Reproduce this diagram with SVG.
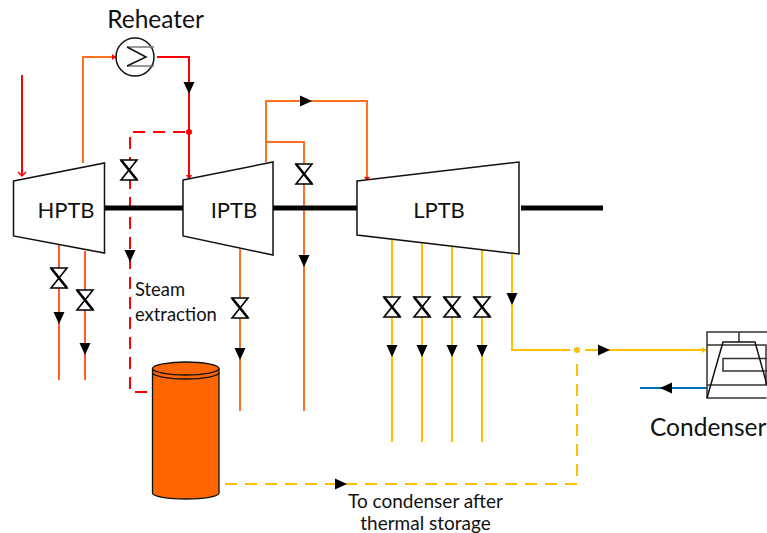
<svg xmlns="http://www.w3.org/2000/svg" width="767" height="533" viewBox="0 0 767 533">
<style>
.t{font-family:"Lato","Carlito","Liberation Sans",sans-serif;fill:#111}
.b{fill:#fff;stroke:#111;stroke-width:1.5}
.s{fill:none;stroke:#000;stroke-width:5}
.l{fill:none;stroke-width:2}
.red{stroke:#ff0000}.or{stroke:#ff7020}.hp{stroke:#ff5a28}.ye{stroke:#ffc000}.bl{stroke:#0070c0}
.d{stroke-dasharray:12 8}
.v{fill:#fff;stroke:#000;stroke-width:1.600}
.x{fill:none;stroke:#000;stroke-width:2.600}
.a{fill:#000}
</style>
<defs>
<g id="valve"><path class="v" d="M-8-10H8L-8 10H8Z"/><path class="x" d="M-8-10L8 10"/></g>
<path id="ad" class="a" d="M-5.500-6H5.500L0 6Z"/>
<path id="ar" class="a" d="M-6-5.500V5.500L6 0Z"/>
</defs>
<g id="connectors">
<path class="l red" d="M22 75V176"/><path d="M18 172L22 176L26 172" fill="none" stroke="#ff0000" stroke-width="1.500"/>
<path class="l or" d="M83 163V57H116"/><path d="M112 54L116 57L112 60Z" fill="#ff0000"/>
<path class="l red" d="M157 57H189V178"/><path d="M186 175L189 180L192 175Z" fill="#ff0000"/>
<path class="l red d" d="M185 132H130V392H152"/>
<circle cx="189" cy="132" r="3" fill="#ff0000"/>
<path class="l or" d="M266 162V101H367V178"/><path d="M364 177L367 181L370 177Z" fill="#ff0000"/>
<path class="l or" d="M266 142H304V411"/>
<path class="l or" d="M240 249V411"/>
<path class="l hp" d="M59 245V380M85 251V380"/>
<path class="l ye" d="M392 239V442M422 243V442M452 246V442M482 250V442"/>
<path class="l ye" d="M512 253V350H570M585 350H706"/><path d="M702 347L707 350L702 353Z" fill="#ffc000"/>
<circle cx="577" cy="350" r="3" fill="#ffc000"/>
<path class="l ye d" d="M225 484H577V360"/>
<path class="l bl" d="M640 388H707"/>
<use href="#ad" x="189" y="88"/>
<use href="#ar" x="306" y="101"/>
<use href="#ad" x="130" y="256"/>
<use href="#ad" x="304" y="261"/>
<use href="#ad" x="59" y="318"/>
<use href="#ad" x="85" y="349"/>
<use href="#ad" x="240" y="354"/>
<use href="#ad" x="392" y="351"/>
<use href="#ad" x="422" y="351"/>
<use href="#ad" x="452" y="351"/>
<use href="#ad" x="482" y="351"/>
<use href="#ad" x="512" y="299"/>
<use href="#ar" x="604" y="350"/>
<use href="#ar" x="341" y="484"/>
<path class="a" d="M660 388L672 382.500V393.500Z"/>
<use href="#valve" x="129" y="170"/>
<use href="#valve" x="304" y="174"/>
<use href="#valve" x="59" y="278"/>
<use href="#valve" x="85" y="300"/>
<use href="#valve" x="240" y="308"/>
<use href="#valve" x="392" y="307"/>
<use href="#valve" x="422" y="307"/>
<use href="#valve" x="452" y="307"/>
<use href="#valve" x="482" y="307"/>
</g>
<g id="shafts">
<path class="s" d="M105 208H184M273 208H357M521 208H603"/>
</g>
<g id="hptb"><path class="b" d="M13.500 181L104.500 163V253L13.500 236Z"/><text class="t" x="66" y="218" font-size="22" text-anchor="middle">HPTB</text></g>
<g id="iptb"><path class="b" d="M183 180L273 162V255L183 236Z"/><text class="t" x="234" y="218" font-size="22" text-anchor="middle">IPTB</text></g>
<g id="lptb"><path class="b" d="M357 181L519 162V254L357 235Z"/><text class="t" x="439" y="218" font-size="22" text-anchor="middle">LPTB</text></g>
<g id="reheater">
<circle cx="135" cy="57" r="19" fill="#fff" stroke="#111" stroke-width="1.500"/>
<path d="M127 47H154M127 66H154" stroke="#777" stroke-width="1.500" fill="none"/>
<path d="M127 47L146 57L127 66" stroke="#111" stroke-width="1.500" fill="none"/>
<text class="t" x="155.500" y="28" font-size="24.500" text-anchor="middle">Reheater</text>
</g>
<g id="tank">
<path d="M152.500 368.500V493C152.500 496.500 168 499 186 499S219 496.500 219 493V368.500C219 365 203 362 186 362S152.500 365 152.500 368.500Z" fill="#ff6600" stroke="#111" stroke-width="1.300"/>
<path d="M152.500 368.500C152.500 372 168 375 186 375S219 372 219 368.500M152.500 372.500C152.500 376 168 379 186 379S219 376 219 372.500" fill="none" stroke="#111" stroke-width="1.300"/>
</g>
<g id="condenser" fill="none" stroke="#333" stroke-width="1.500">
<path d="M766.500 398H707V332H767M707 345H766V385M707 385H767M739 332V342M767 358.500H723V371H767"/>
<path d="M707 398L723 342H755L767 385" stroke="#111"/>
<text class="t" x="650" y="436" font-size="24.500" stroke="none">Condenser</text>
</g>
<g id="labels">
<text class="t" x="135" y="296" font-size="18.400">Steam</text>
<text class="t" x="135" y="321" font-size="18.400">extraction</text>
<text class="t" x="425.500" y="508" font-size="19" text-anchor="middle">To condenser after</text>
<text class="t" x="425.500" y="530" font-size="19" text-anchor="middle">thermal storage</text>
</g>
</svg>
